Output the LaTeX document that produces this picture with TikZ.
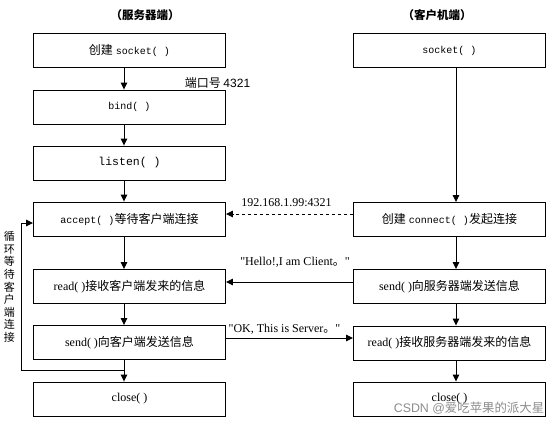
\documentclass[tikz,border=0pt]{standalone}
\usepackage{fontspec}
\setmainfont{Liberation Serif}[Ligatures=TeXOff]
\setmonofont{Liberation Mono}
\newfontfamily\cjk{Noto Sans CJK SC}
\newfontfamily\wmfont{Liberation Sans}
\usetikzlibrary{arrows.meta}
\newcommand\zh[1]{{\cjk #1}}
\newcommand\code[1]{{\ttfamily\fontsize{10}{12}\selectfont #1}}

\begin{document}
\begin{tikzpicture}[x=1pt,y=-1pt,
    box/.style={draw,line width=0.9pt,minimum width=192pt,minimum height=34pt,
        inner sep=0pt,font=\fontsize{12}{14}\selectfont},
    flow/.style={line width=0.9pt,-{Triangle[length=7pt,width=6.5pt]}},
    lbl/.style={inner sep=0pt,font=\fontsize{12}{14}\selectfont}]
    \useasboundingbox (0,0) rectangle (555,424);
    \coordinate (lx) at (124,0);
    \coordinate (rx) at (456,0);
    \coordinate (loop) at (21,370);
    % headers
    \node[lbl,font=\cjk\bfseries\fontsize{11.5}{14}\selectfont] (hs) at (145,15) {（服务器端）};
    \node[lbl,font=\cjk\bfseries\fontsize{11.5}{14}\selectfont] (hc) at (437,15) {（客户机端）};
    % server
    \node[box] (L1) at (129.5,50.5) {\zh{创建} \code{socket( )}};
    \node[box] (L2) at (129.5,107) {\code{bind( )}};
    \node[box] (L3) at (129.5,163) {{\ttfamily\fontsize{11.5}{14}\selectfont listen( )}};
    \node[box] (L4) at (129.5,219) {\code{accept( )}\zh{等待客户端连接}};
    \node[box] (L5) at (129.5,286.5) {read( )\zh{接收客户端发来的信息}};
    \node[box] (L6) at (129.5,342.5) {send( )\zh{向客户端发送信息}};
    \node[box] (L7) at (129.5,399) {close( )};
    % client
    \node[box] (R1) at (449.5,50.5) {\code{socket( )}};
    \node[box] (R2) at (449.5,219.5) {\zh{创建} \code{connect( )}\zh{发起连接}};
    \node[box] (R3) at (449.5,286.5) {send( )\zh{向服务器端发送信息}};
    \node[box] (R4) at (449.5,343) {read( )\zh{接收服务器端发来的信息}};
    \node[box] (R5) at (449.5,399) {close( )};
    % vertical arrows
    \draw[flow] (L1.south -| lx) -- (L2.north -| lx);
    \draw[flow] (L2.south -| lx) -- (L3.north -| lx);
    \draw[flow] (L3.south -| lx) -- (L4.north -| lx);
    \draw[flow] (L4.south -| lx) -- (L5.north -| lx);
    \draw[flow] (L5.south -| lx) -- (L6.north -| lx);
    \draw[flow] (L6.south -| lx) -- (L7.north -| lx);
    \draw[flow] (R1.south -| rx) -- (R2.north -| rx);
    \draw[flow] (R2.south -| rx) -- (R3.north -| rx);
    \draw[flow] (R3.south -| rx) -- (R4.north -| rx);
    \draw[flow] (R4.south -| rx) -- (R5.north -| rx);
    % loop back to accept
    \draw[flow] (lx |- loop) -- (loop) |- ([yshift=-4pt]L4.west);
    \node[inner sep=0pt,align=center,font=\cjk\fontsize{11}{12.6}\selectfont] (wait) at (9.5,287)
        {循\\环\\等\\待\\客\\户\\端\\连\\接};
    % messages
    \node[lbl,font=\cjk\fontsize{12}{14}\selectfont] (port) at (217.5,83) {端口号 {\wmfont 4321}};
    \draw[flow,dashed] ([yshift=5.5pt]R2.west) -- ([yshift=5pt]L4.east);
    \node[lbl] (addr) at (286.5,203) {192.168.1.99:4321};
    \draw[flow] ([yshift=4.5pt]R3.west) -- ([yshift=4.5pt]L5.east);
    \node[lbl] (hello) at (295,262) {"Hello!,I am Client\zh{。}"};
    \draw[flow] ([yshift=4.5pt]L6.east) -- ([yshift=5pt]R4.west);
    \node[lbl] (ok) at (284.5,329) {"OK, This is Server\zh{。}"};
    \node[inner sep=0pt,text=black!45,font=\wmfont\fontsize{12.4}{14}\selectfont] (mark) at (469,408)
        {CSDN @\zh{爱吃苹果的派大星}};
\end{tikzpicture}
\end{document}
